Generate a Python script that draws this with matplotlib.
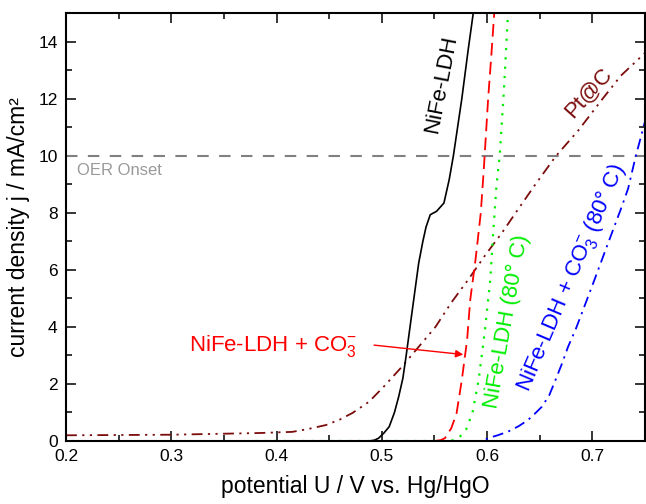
import matplotlib
matplotlib.use("Agg")
import matplotlib.pyplot as plt
from matplotlib.ticker import MultipleLocator

plt.rcParams['font.family'] = ['Liberation Sans', 'DejaVu Sans']
plt.rcParams['mathtext.fontset'] = 'custom'
plt.rcParams['mathtext.rm'] = 'Liberation Sans'
plt.rcParams['mathtext.it'] = 'Liberation Sans:italic'

# polarisation curves, potential in V vs. Hg/HgO, current density in mA/cm2
u_ldh = [0.200, 0.488, 0.493, 0.497, 0.502, 0.507, 0.512, 0.516, 0.520, 0.523, 0.529,
         0.535, 0.539, 0.542, 0.546, 0.552, 0.559, 0.564, 0.568, 0.576, 0.582, 0.588]
j_ldh = [0.0, 0.0, 0.03, 0.1, 0.28, 0.5, 1.0, 1.55, 2.2, 2.96, 4.6,
         6.23, 7.0, 7.5, 7.93, 8.05, 8.34, 9.16, 10.0, 12.0, 13.7, 15.3]

u_co3 = [0.280, 0.550, 0.556, 0.560, 0.566, 0.571, 0.576, 0.581, 0.584, 0.589,
         0.594, 0.597, 0.601, 0.604, 0.607]
j_co3 = [0.0, 0.0, 0.03, 0.1, 0.45, 0.97, 2.14, 3.54, 4.95, 6.35,
         7.99, 9.6, 12.0, 13.5, 15.1]

u_ldh80 = [0.380, 0.562, 0.568, 0.573, 0.580, 0.586, 0.592, 0.598, 0.603, 0.606,
           0.609, 0.612, 0.616, 0.620]
j_ldh80 = [0.0, 0.0, 0.03, 0.1, 0.4, 0.97, 2.14, 3.9, 5.65, 7.4,
           9.0, 10.0, 12.3, 15.1]

u_co3_80 = [0.380, 0.596, 0.601, 0.610, 0.620, 0.630, 0.639, 0.646, 0.652, 0.659, 0.665,
            0.671, 0.677, 0.684, 0.690, 0.702, 0.715, 0.728, 0.734, 0.741, 0.750]
j_co3_80 = [0.0, 0.0, 0.1, 0.2, 0.33, 0.52, 0.74, 0.98, 1.2, 1.6, 2.14,
            2.7, 3.31, 3.9, 4.48, 5.65, 6.94, 8.22, 8.85, 9.95, 11.2]

u_pt = [0.200, 0.300, 0.384, 0.415, 0.430, 0.447, 0.460, 0.472, 0.488, 0.503, 0.519, 0.535,
        0.551, 0.566, 0.582, 0.598, 0.614, 0.630, 0.646, 0.665, 0.687, 0.709, 0.727, 0.750]
j_pt = [0.20, 0.22, 0.28, 0.32, 0.42, 0.56, 0.75, 0.98, 1.38, 1.95, 2.6, 3.3,
        4.0, 4.85, 5.65, 6.5, 7.29, 8.15, 9.0, 9.97, 10.9, 11.96, 12.8, 13.6]

oer_onset = 10

fig = plt.figure(figsize=(6.46, 5.04), dpi=100)
ax = fig.add_axes([66 / 646, 63 / 504, 579 / 646, 428 / 504])

ax.axhline(oer_onset, color='#808080', lw=1.5, dashes=(5.5, 5))

ax.plot(u_pt, j_pt, color='#7b0c0c', lw=1.3, dashes=(6, 3, 1.2, 3, 1.2, 3))
ax.plot(u_co3_80, j_co3_80, color='#0000ff', lw=1.3, dashes=(6, 3, 1.2, 3))
ax.plot(u_ldh80, j_ldh80, color='#00ee00', lw=1.6, dashes=(1, 3.2))
ax.plot(u_co3, j_co3, color='#ff0000', lw=1.3, dashes=(7, 3.5))
ax.plot(u_ldh, j_ldh, color='black', lw=1.2)

# labels
ax.text(0.2105, 9.75, 'OER Onset', color='#999999', fontsize=12, ha='left', va='top')
ax.text(0.556, 12.5, 'NiFe-LDH', color='black', fontsize=16, rotation=79,
        ha='center', va='center')
ax.text(0.696, 12.2, 'Pt@C', color='#7b0c0c', fontsize=16, rotation=48,
        ha='center', va='center')
ax.text(0.619, 4.2, 'NiFe-LDH (80° C)', color='#00ee00', fontsize=16, rotation=80,
        ha='center', va='center')
ax.text(0.680, 5.7, r'NiFe-LDH + CO$_3^{-}$ (80° C)', color='#0000ff', fontsize=16,
        rotation=67, ha='center', va='center')
ax.text(0.317, 3.17, r'NiFe-LDH + CO$_3^{-}$', color='#ff0000', fontsize=16,
        ha='left', va='baseline')
ax.annotate('', xy=(0.580, 3.02), xytext=(0.490, 3.37),
            arrowprops=dict(arrowstyle='-|>', color='#ff0000', lw=1, mutation_scale=11))

ax.set_xlim(0.2, 0.75)
ax.set_ylim(0, 15)
ax.xaxis.set_major_locator(MultipleLocator(0.1))
ax.xaxis.set_minor_locator(MultipleLocator(0.05))
ax.yaxis.set_major_locator(MultipleLocator(2))
ax.yaxis.set_minor_locator(MultipleLocator(1))
ax.set_xticks([0.2, 0.3, 0.4, 0.5, 0.6, 0.7])
ax.set_xticklabels(['0.2', '0.3', '0.4', '0.5', '0.6', '0.7'])
ax.tick_params(which='both', direction='in', top=True, right=True, width=1.1,
               labelsize=12.5, pad=6)
ax.tick_params(which='major', length=7)
ax.tick_params(which='minor', length=4)
for s in ax.spines.values():
    s.set_linewidth(1.5)

ax.set_xlabel('potential U / V vs. Hg/HgO', fontsize=16.5, labelpad=8)
ax.set_ylabel('current density j / mA/cm²', fontsize=16.5, labelpad=6)

fig.savefig('out.png', dpi=100)
